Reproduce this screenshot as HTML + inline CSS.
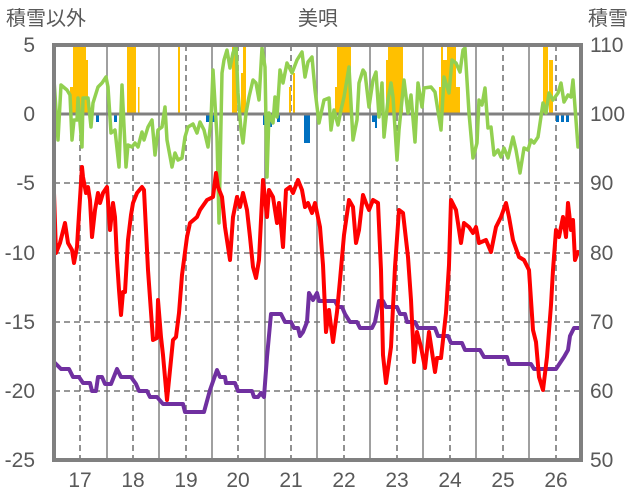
<!DOCTYPE html>
<html><head><meta charset="utf-8"><style>
html,body{margin:0;padding:0;background:#fff;width:636px;height:501px;overflow:hidden}
text{font-family:"Liberation Sans","Noto Sans CJK JP",sans-serif;fill:#595959}
</style></head><body>
<svg width="636" height="501" viewBox="0 0 636 501" xmlns="http://www.w3.org/2000/svg">
<g font-size="20">
<text x="6" y="25">積雪以外</text>
<text x="318" y="25" text-anchor="middle">美唄</text>
<text x="588" y="25">積雪</text>
</g>
<g font-size="21" text-anchor="end">
<text x="35" y="52">5</text><text x="35" y="121">0</text><text x="35" y="190">-5</text>
<text x="35" y="260">-10</text><text x="35" y="329">-15</text><text x="35" y="398">-20</text><text x="35" y="467">-25</text>
</g>
<g font-size="21">
<text x="590" y="52">110</text><text x="590" y="121">100</text><text x="590" y="190">90</text>
<text x="590" y="260">80</text><text x="590" y="329">70</text><text x="590" y="398">60</text><text x="590" y="467">50</text>
</g>
<g font-size="21" text-anchor="middle">
<text x="80" y="487">17</text><text x="133" y="487">18</text><text x="186" y="487">19</text><text x="238" y="487">20</text><text x="291" y="487">21</text>
<text x="344" y="487">22</text><text x="397" y="487">23</text><text x="450" y="487">24</text><text x="503" y="487">25</text><text x="556" y="487">26</text>
</g>
<g stroke="#888" stroke-width="1.6">
<line x1="107" y1="45" x2="107" y2="460"/><line x1="159" y1="45" x2="159" y2="460"/><line x1="212" y1="45" x2="212" y2="460"/>
<line x1="265" y1="45" x2="265" y2="460"/><line x1="317" y1="45" x2="317" y2="460"/><line x1="370" y1="45" x2="370" y2="460"/>
<line x1="423" y1="45" x2="423" y2="460"/><line x1="476" y1="45" x2="476" y2="460"/><line x1="529" y1="45" x2="529" y2="460"/>
</g>
<g stroke="#777" stroke-width="1.6" stroke-dasharray="6,4">
<line x1="80" y1="45" x2="80" y2="460"/><line x1="133" y1="45" x2="133" y2="460"/><line x1="186" y1="45" x2="186" y2="460"/>
<line x1="238" y1="45" x2="238" y2="460"/><line x1="291" y1="45" x2="291" y2="460"/><line x1="344" y1="45" x2="344" y2="460"/>
<line x1="397" y1="45" x2="397" y2="460"/><line x1="450" y1="45" x2="450" y2="460"/><line x1="503" y1="45" x2="503" y2="460"/>
<line x1="556" y1="45" x2="556" y2="460"/>
<line x1="54" y1="183" x2="581" y2="183"/><line x1="54" y1="253" x2="581" y2="253"/><line x1="54" y1="322" x2="581" y2="322"/><line x1="54" y1="391" x2="581" y2="391"/>
</g>
<g fill="#ffc000">
<rect x="70" y="87" width="3" height="27"/><rect x="73" y="45" width="13" height="69"/><rect x="86" y="60" width="2" height="54"/>
<rect x="127" y="45" width="9" height="69"/><rect x="138" y="87" width="1.5" height="27"/><rect x="178" y="45" width="2" height="69"/>
<rect x="232" y="45" width="5" height="69"/><rect x="241" y="73" width="2" height="41"/><rect x="243" y="45" width="3" height="69"/>
<rect x="289" y="87" width="2" height="27"/><rect x="293" y="73" width="2" height="41"/>
<rect x="335" y="87" width="2" height="27"/><rect x="337" y="45" width="14" height="69"/>
<rect x="386" y="60" width="2" height="54"/><rect x="388" y="45" width="15" height="69"/>
<rect x="439" y="87" width="2" height="27"/><rect x="441" y="45" width="2" height="69"/><rect x="443" y="60" width="4" height="54"/>
<rect x="447" y="45" width="9" height="69"/><rect x="456" y="87" width="4" height="27"/>
<rect x="543" y="45" width="5" height="69"/><rect x="549" y="60" width="4" height="54"/>
</g>
<g fill="#0070c0">
<rect x="96" y="114" width="3" height="8"/><rect x="114" y="114" width="3" height="8"/><rect x="206" y="114" width="11" height="8"/>
<rect x="263" y="114" width="5" height="11"/><rect x="268" y="114" width="4" height="13"/><rect x="277" y="114" width="3" height="8"/>
<rect x="304" y="114" width="6" height="29"/><rect x="372" y="114" width="3" height="8"/><rect x="375" y="114" width="2" height="14"/>
<rect x="556" y="114" width="3" height="8"/><rect x="561" y="114" width="3" height="8"/><rect x="566" y="114" width="3" height="8"/>
</g>
<line x1="54" y1="114" x2="581" y2="114" stroke="#808080" stroke-width="3"/>
<g fill="none" stroke-width="4" stroke-linejoin="round" stroke-linecap="round">
<polyline stroke="#92d050" stroke-width="3.5" points="54,80 58,140 61,85 67,90 70,95 72,140 74,120 77,120 78,98 82,147 83,98 88,98 91,127 93,103 98,87 102,83 106,77 108,87 111,133 115,130 119,167 122,85 126,167 128,145 132,147 135,143 138,147 142,132 144,140 148,127 152,120 155,155 158,130 162,127 165,107 167,140 172,167 175,153 178,160 182,158 185,137 188,127 193,124 197,133 200,122 204,130 208,147 211,120 213,70 217,137 219,223 222,73 224,60 227,50 230,68 233,53 236,45 238,93 241,130 243,143 246,113 249,97 253,80 256,83 259,100 262,48 265,67 267,177 269,113 273,123 275,97 277,117 280,70 283,83 287,63 292,73 297,60 302,52 305,77 308,62 312,57 315,90 319,123 324,100 329,98 331,130 334,110 338,125 341,110 344,97 349,67 353,140 357,120 359,83 363,70 365,73 369,107 373,80 376,72 379,117 382,83 384,137 388,100 391,83 393,97 397,160 399,130 404,80 408,113 411,95 415,142 418,83 422,107 424,88 431,87 435,92 441,130 444,77 449,93 452,60 456,63 460,72 463,50 465,48 469,113 473,158 477,143 479,100 482,105 485,88 488,128 491,127 494,155 498,150 501,157 504,148 508,158 513,137 516,150 520,173 524,148 528,150 531,140 534,143 538,137 543,103 546,113 549,93 553,100 558,93 561,83 564,102 568,95 571,97 573,80 575,107 578,147"/>
<polyline stroke="#7030a0" points="55,363 61,369 69,369 73,377 79,377 83,383 90,383 92,391 96,391 98,377 102,377 105,384 111,384 117,369 121,377 131,377 136,384 139,391 147,391 150,397 157,397 163,404 183,404 185,412 204,412 210,390 217,370 220,377 225,377 226,383 235,383 238,391 252,391 254,397 258,397 261,393 264,397 267,357 271,314 281,314 285,322 291,322 294,328 298,328 300,336 303,332 307,322 309,293 313,300 317,293 319,301 335,301 338,307 342,307 345,314 350,322 357,322 360,328 372,328 375,322 379,301 383,301 386,307 397,307 400,314 405,314 407,322 415,322 418,328 435,328 438,336 448,336 451,343 462,343 465,350 480,350 484,357 507,357 509,364 531,364 534,369 556,369 560,363 564,357 568,350 570,336 574,328 580,328"/>
<polyline stroke="#ff0000" points="54,193 56,253 60,243 65,223 68,243 72,250 74,263 77,247 78,230 82,167 83,177 86,193 88,187 90,200 92,237 95,210 98,193 100,203 103,193 107,187 110,230 113,203 115,217 117,260 119,290 121,315 123,292 125,292 128,240 131,215 133,203 137,193 142,187 144,190 148,270 153,340 157,338 158,300 161,337 163,355 167,400 171,360 173,340 176,337 179,313 182,275 187,237 190,223 197,217 200,210 207,200 213,197 216,173 218,187 222,197 225,227 230,260 233,217 237,197 240,207 243,193 247,210 250,237 253,267 256,278 259,260 263,180 267,217 269,190 273,197 277,223 279,203 283,247 286,190 290,187 293,193 298,180 302,190 305,207 308,203 312,213 315,203 320,227 323,265 326,332 329,310 333,342 337,312 340,280 344,235 349,200 353,207 356,243 359,230 363,195 366,203 369,210 373,200 378,203 381,270 383,355 386,383 391,347 395,267 399,210 403,213 408,257 411,300 414,362 417,332 421,347 425,368 429,332 435,372 437,358 441,358 446,313 449,265 451,200 456,210 461,243 464,223 469,227 473,233 476,227 479,243 486,240 491,252 496,227 501,217 506,203 509,217 513,240 519,257 524,260 529,270 533,330 536,342 539,377 543,390 547,357 551,305 553,270 556,230 559,237 563,217 566,237 568,203 571,230 573,220 575,260 578,252"/>
</g>
<rect x="54" y="45" width="527" height="415" fill="none" stroke="#808080" stroke-width="4"/>
</svg>
</body></html>
